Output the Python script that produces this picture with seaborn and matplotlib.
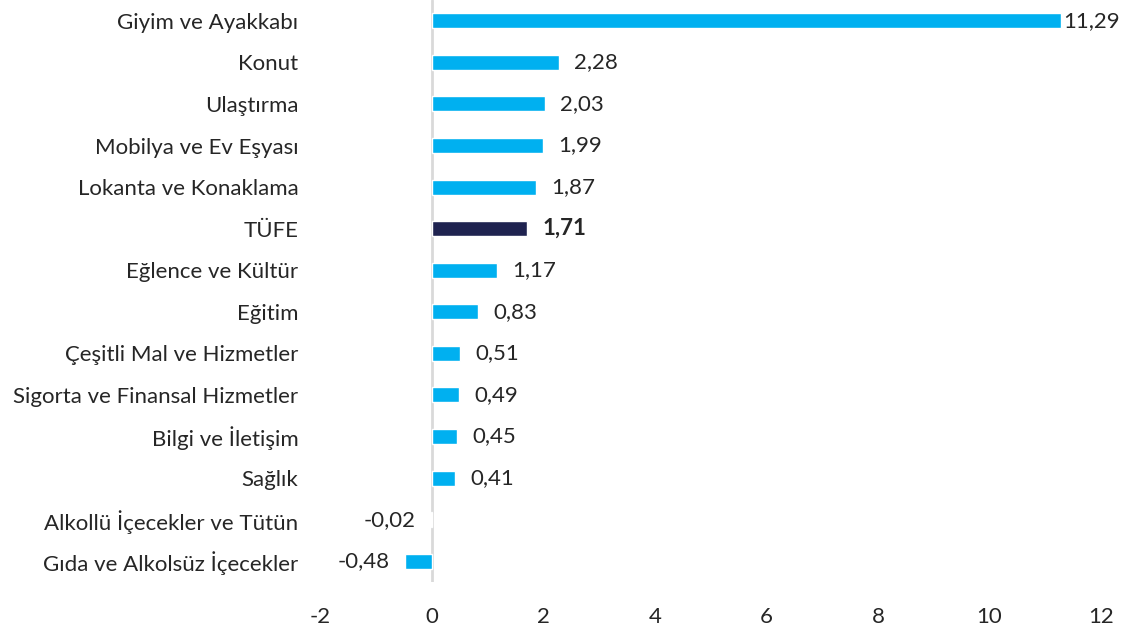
import matplotlib
matplotlib.use("Agg")
import matplotlib.pyplot as plt
import seaborn as sns
import pandas as pd

# Data (TÜFE and main groups, %)
categories = ["Giyim ve Ayakkabı", "Konut", "Ulaştırma", "Mobilya ve Ev Eşyası",
              "Lokanta ve Konaklama", "TÜFE", "Eğlence ve Kültür", "Eğitim",
              "Çeşitli Mal ve Hizmetler", "Sigorta ve Finansal Hizmetler",
              "Bilgi ve İletişim", "Sağlık", "Alkollü İçecekler ve Tütün",
              "Gıda ve Alkolsüz İçecekler"]
values = [11.29, 2.28, 2.03, 1.99, 1.87, 1.71, 1.17, 0.83, 0.51, 0.49, 0.45, 0.41, -0.02, -0.48]
x_ticks = [-2, 0, 2, 4, 6, 8, 10, 12]

light_blue = "#00B0F0"
navy = "#1F2350"
colors = [navy if c == "TÜFE" else light_blue for c in categories]

df = pd.DataFrame({"cat": categories, "val": values})

sns.set_style("white")
plt.rcParams["font.family"] = ["Lato", "DejaVu Sans"]

fig = plt.figure(figsize=(11.25, 6.32), dpi=100)
ax = fig.add_axes([320.5 / 1125, 1 - 582 / 632, (1101 - 320.5) / 1125, 582 / 632])

sns.barplot(data=df, x="val", y="cat", hue="cat", palette=colors, legend=False,
            orient="h", width=0.36, ax=ax, saturation=1)

ax.set_xlim(-2, 12)
ax.set_xticks(x_ticks)
ax.set_xticklabels([str(t) for t in x_ticks])
ax.set_xlabel("")
ax.set_ylabel("")
ax.axvline(0, color="#D9D9D9", lw=2, zorder=0)
for s in ax.spines.values():
    s.set_visible(False)
ax.tick_params(axis="y", length=0, pad=16, labelsize=16)
ax.tick_params(axis="x", length=0, pad=18, labelsize=16)

for i, (c, v) in enumerate(zip(categories, values)):
    txt = f"{v:.2f}".replace(".", ",")
    bold = "bold" if c == "TÜFE" else "normal"
    if v >= 0:
        off = 1 if v == max(values) else 11
        ax.annotate(txt, (v, i), xytext=(off, 0), textcoords="offset points",
                    ha="left", va="center", fontsize=16, fontweight=bold)
    else:
        ax.annotate(txt, (v, i), xytext=(-11, 0), textcoords="offset points",
                    ha="right", va="center", fontsize=16, fontweight=bold)

fig.savefig("out.png", dpi=100)
